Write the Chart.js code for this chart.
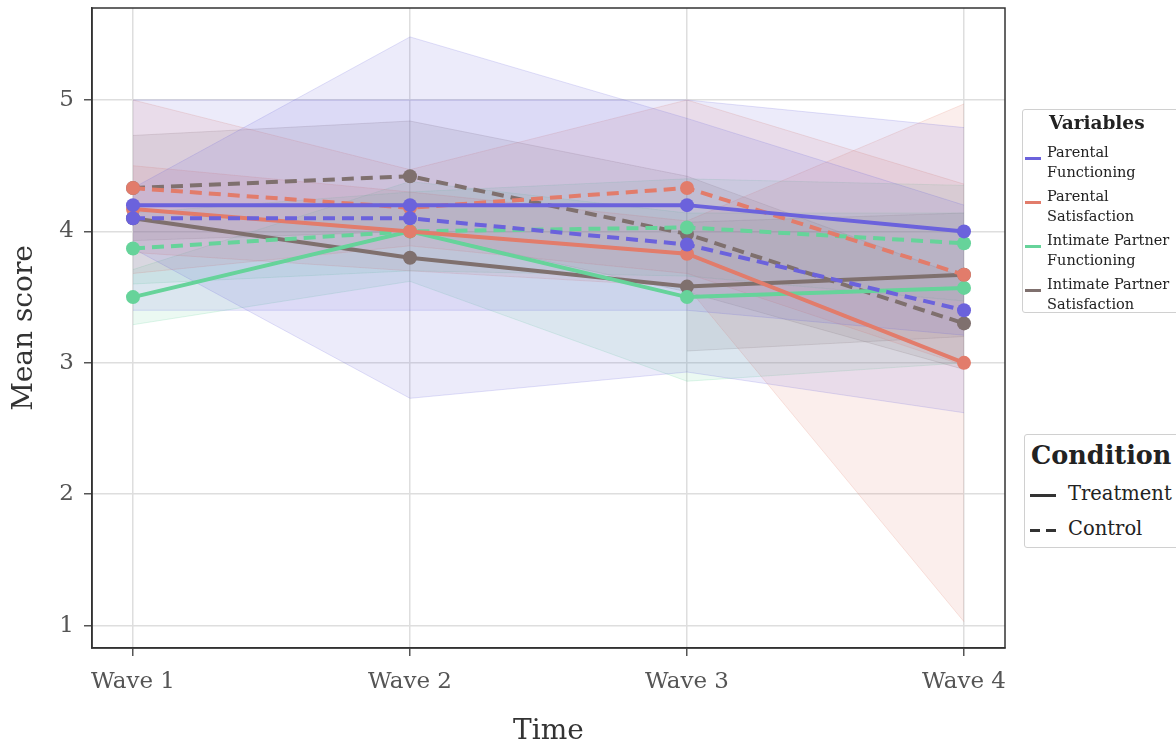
<!DOCTYPE html>
<html>
<head>
<meta charset="utf-8">
<script src="https://cdn.jsdelivr.net/npm/chart.js@4.4.1/dist/chart.umd.min.js"></script>
<style>
  body { margin: 0; background: #fff; font-family: 'DejaVu Serif', serif; }
  #wrap { position: relative; width: 1176px; height: 746px; overflow: hidden; }
  .box { position: absolute; background: #fff; border: 1px solid #d0d0d0; border-radius: 3px; box-sizing: border-box; }
  .txt { position: absolute; white-space: nowrap; color: #222; line-height: 1; }
  .sw { position: absolute; height: 3px; }
</style>
</head>
<body>
<div id="wrap">
  <canvas id="chart" width="1176" height="746"></canvas>
  <div id="legends"></div>
</div>
<script>
// categories
const waves = ['Wave 1', 'Wave 2', 'Wave 3', 'Wave 4'];
const variables = ['Parental Functioning', 'Parental Satisfaction', 'Intimate Partner Functioning', 'Intimate Partner Satisfaction'];
const conditions = ['Treatment', 'Control'];
const colors = ['#6b62dc', '#e27c6b', '#66d39a', '#7f706e'];
const yTicks = [1, 2, 3, 4, 5];

// mean scores, treatment
const pfTreat  = [4.20, 4.20, 4.20, 4.00];
const psTreat  = [4.17, 4.00, 3.83, 3.00];
const ipfTreat = [3.50, 4.00, 3.50, 3.57];
const ipsTreat = [4.10, 3.80, 3.58, 3.67];
// mean scores, control
const pfCtrl  = [4.10, 4.10, 3.90, 3.40];
const psCtrl  = [4.33, 4.18, 4.33, 3.67];
const ipfCtrl = [3.87, 4.00, 4.03, 3.91];
const ipsCtrl = [4.33, 4.42, 3.98, 3.30];

// ribbon bounds (lower / upper)
const pfTreatLo  = [3.40, 3.40, 3.40, 3.21];
const pfTreatHi  = [5.00, 5.00, 5.00, 4.79];
const psTreatLo  = [3.84, 3.70, 3.58, 1.03];
const psTreatHi  = [4.50, 4.30, 4.08, 4.97];
const ipfTreatLo = [3.29, 3.62, 2.86, 3.00];
const ipfTreatHi = [3.71, 4.38, 4.14, 4.14];
const ipsTreatLo = [3.68, null, 3.09, 3.20];
const ipsTreatHi = [4.52, null, 4.07, 4.14];
const pfCtrlLo  = [3.87, 2.73, 2.93, 2.62];
const pfCtrlHi  = [4.33, 5.48, 4.86, 4.20];
const psCtrlLo  = [3.68, 3.89, 3.68, 2.98];
const psCtrlHi  = [5.00, 4.47, 5.00, 4.36];
const ipfCtrlLo = [3.60, 3.70, 3.66, 3.47];
const ipfCtrlHi = [4.14, 4.30, 4.40, 4.35];
const ipsCtrlLo = [3.93, 4.00, 3.54, 2.95];
const ipsCtrlHi = [4.73, 4.84, 4.42, 3.65];

const treatMeans = [pfTreat, psTreat, ipfTreat, ipsTreat];
const ctrlMeans = [pfCtrl, psCtrl, ipfCtrl, ipsCtrl];
const treatLo = [pfTreatLo, psTreatLo, ipfTreatLo, ipsTreatLo];
const treatHi = [pfTreatHi, psTreatHi, ipfTreatHi, ipsTreatHi];
const ctrlLo = [pfCtrlLo, psCtrlLo, ipfCtrlLo, ipsCtrlLo];
const ctrlHi = [pfCtrlHi, psCtrlHi, ipfCtrlHi, ipsCtrlHi];

const yMin = 0.83, yMax = 5.70;
const xPad = 0.148;
const FONT = "'DejaVu Serif', serif";

function alpha(hex, a) {
    const n = parseInt(hex.slice(1), 16);
    return `rgba(${n >> 16}, ${(n >> 8) & 255}, ${n & 255}, ${a})`;
}
const pts = arr => arr.map((v, i) => ({x: i, y: v}));

const datasets = [];

// ribbons first (drawn underneath)
function addRibbon(lo, hi, color) {
    datasets.push({
        data: pts(lo), borderColor: alpha(color, 0.2), borderWidth: 1,
        pointRadius: 0, fill: false, order: 5, spanGaps: false
    });
    datasets.push({
        data: pts(hi), borderColor: alpha(color, 0.2), borderWidth: 1,
        backgroundColor: alpha(color, 0.13),
        pointRadius: 0, fill: '-1', order: 5, spanGaps: false
    });
}
variables.forEach((v, i) => {
    addRibbon(treatLo[i], treatHi[i], colors[i]);
    addRibbon(ctrlLo[i], ctrlHi[i], colors[i]);
});

function addLine(vals, color, dashed) {
    datasets.push({
        data: pts(vals), borderColor: color, borderWidth: 4,
        borderDash: dashed ? [12, 7] : [],
        pointRadius: 7, pointHoverRadius: 7, pointBorderWidth: 0,
        pointBackgroundColor: color, fill: false, order: 1
    });
}
variables.forEach((v, i) => {
    addLine(ctrlMeans[i], colors[i], true);
    addLine(treatMeans[i], colors[i], false);
});

// box around the plotting area
const frame = {
    id: 'frame',
    afterDatasetsDraw(chart) {
        const {ctx, chartArea: a} = chart;
        ctx.save();
        ctx.strokeStyle = '#333';
        ctx.lineWidth = 1.5;
        ctx.strokeRect(a.left, a.top, a.right - a.left, a.bottom - a.top);
        ctx.restore();
    }
};

new Chart(document.getElementById('chart'), {
    type: 'line',
    data: {datasets},
    plugins: [frame],
    options: {
        responsive: false,
        animation: false,
        devicePixelRatio: 1,
        layout: {padding: {top: 8, right: 171, left: 0, bottom: 0}},
        plugins: {legend: {display: false}, tooltip: {enabled: false}},
        elements: {line: {tension: 0}},
        scales: {
            x: {
                type: 'linear', min: -xPad, max: waves.length - 1 + xPad,
                afterBuildTicks: s => { s.ticks = waves.map((w, i) => ({value: i})); },
                afterFit: s => { s.height = 98; s.paddingLeft = 0; s.paddingRight = 0; },
                ticks: {
                    callback: v => waves[v],
                    font: {family: FONT, size: 23}, color: '#555', padding: 12, maxRotation: 0
                },
                grid: {color: '#dedede', lineWidth: 1.5, tickLength: 8, tickColor: '#555'},
                border: {display: true, color: '#333', width: 1.5},
                title: {
                    display: true, text: 'Time', color: '#333',
                    font: {family: FONT, size: 28, lineHeight: 1}, padding: {top: 0, bottom: 0}
                }
            },
            y: {
                type: 'linear', min: yMin, max: yMax,
                afterBuildTicks: s => { s.ticks = yTicks.map(v => ({value: v})); },
                afterFit: s => { s.width = 92; s.paddingTop = 0; s.paddingBottom = 0; },
                ticks: {font: {family: FONT, size: 23}, color: '#555', padding: 10},
                grid: {color: '#dedede', lineWidth: 1.5, tickLength: 8, tickColor: '#555'},
                border: {display: true, color: '#333', width: 1.5},
                title: {
                    display: true, text: 'Mean score', color: '#333',
                    font: {family: FONT, size: 28, lineHeight: 1}, padding: {top: 11, bottom: 0}
                }
            }
        }
    }
});

// legends
const leg = document.getElementById('legends');
function el(cls, css, html) {
    const d = document.createElement('div');
    d.className = cls;
    d.style.cssText = css;
    if (html) d.innerHTML = html;
    leg.appendChild(d);
    return d;
}
el('box', 'left:1022px;top:109px;width:160px;height:204px;');
el('txt', 'left:1049px;top:114px;font-weight:bold;font-size:18.5px;', 'Variables');
variables.forEach((v, i) => {
    const words = v.split(' ');
    const last = words.pop();
    const top = 142 + i * 44;
    el('sw', `left:1025px;top:${top + 15}px;width:16px;background:${colors[i]};`);
    el('txt', `left:1047px;top:${top}px;font-size:14.5px;line-height:20px;`, words.join(' ') + '<br>' + last);
});

el('box', 'left:1024px;top:434px;width:160px;height:114px;');
el('txt', 'left:1031px;top:443px;font-weight:bold;font-size:25.5px;', 'Condition');
conditions.forEach((c, i) => {
    const cy = 495 + i * 35;
    if (i === 0) {
        el('sw', `left:1030px;top:${cy - 1}px;width:26px;background:#333;`);
    } else {
        el('sw', `left:1030px;top:${cy - 1}px;width:10px;background:#333;`);
        el('sw', `left:1046px;top:${cy - 1}px;width:10px;background:#333;`);
    }
    el('txt', `left:1068px;top:${cy - 11}px;font-size:19.5px;`, c);
});
</script>
</body>
</html>
